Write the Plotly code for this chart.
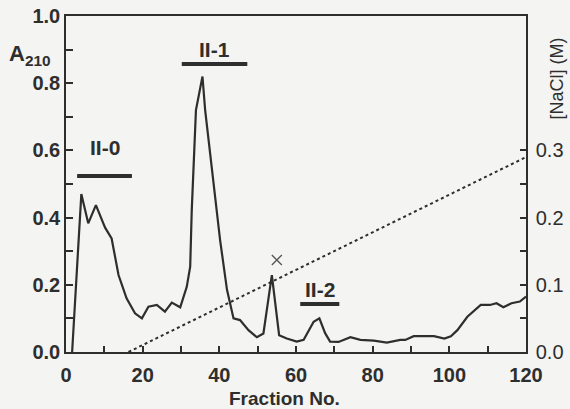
import plotly.graph_objects as go

# Absorbance profile (A210) vs fraction number
fraction = [1.6, 4.0, 5.8, 7.8, 10.2, 11.9, 13.7, 15.8, 18.0, 19.8, 21.5, 23.7, 25.8, 27.6,
            29.8, 31.5, 32.4, 32.8, 33.9, 35.6, 36.3, 38.9, 40.2, 42.0, 43.7, 45.4, 47.6,
            49.8, 51.5, 53.7, 55.6, 57.6, 60.2, 62.0, 64.6, 66.1, 67.6, 68.9, 71.1, 74.2,
            76.8, 80.3, 83.7, 87.2, 88.5, 90.7, 96.0, 98.7, 100.4, 102.1, 104.7, 108.2,
            110.6, 112.3, 114.1, 116.2, 118.4, 120.0]
a210 = [0.0, 0.47, 0.383, 0.437, 0.37, 0.338, 0.229, 0.16, 0.115, 0.10, 0.135, 0.14, 0.12,
        0.147, 0.133, 0.194, 0.254, 0.42, 0.72, 0.82, 0.72, 0.45, 0.333, 0.185, 0.10, 0.095,
        0.065, 0.044, 0.055, 0.229, 0.05, 0.04, 0.031, 0.036, 0.09, 0.10, 0.056, 0.031,
        0.03, 0.044, 0.036, 0.034, 0.028, 0.036, 0.036, 0.047, 0.047, 0.04, 0.047, 0.065,
        0.105, 0.14, 0.14, 0.145, 0.133, 0.145, 0.15, 0.165]

# NaCl gradient
nacl_fraction = [16.3, 120.0]
nacl_conc = [0.0, 0.29]

# marked fraction (x)
mark_fraction = [55.0]
mark_a210 = [0.274]

# peak pool labels
pool_labels = ["II-0", "II-1", "II-2"]
pool_start = [2.9, 30.2, 61.1]
pool_end = [17.2, 47.3, 71.3]
pool_bar_y = [0.524, 0.857, 0.143]
pool_text_y = [0.61, 0.90, 0.185]

x_ticks = [0, 20, 40, 60, 80, 100, 120]
y_ticks = [0.0, 0.2, 0.4, 0.6, 0.8, 1.0]
y2_ticks = [0.0, 0.1, 0.2, 0.3]

INK = "#2e2e2e"
BG = "#f4f4f2"
FONT = dict(family="Liberation Sans, Arial, sans-serif", size=20, color=INK, weight="bold")

fig = go.Figure()
fig.add_trace(go.Scatter(x=fraction, y=a210, mode="lines",
                         line=dict(color=INK, width=2.2), showlegend=False))
fig.add_trace(go.Scatter(x=nacl_fraction, y=nacl_conc, mode="lines", yaxis="y2",
                         line=dict(color=INK, width=2, dash="3px,3px"), showlegend=False))
fig.add_trace(go.Scatter(x=mark_fraction, y=mark_a210, mode="markers",
                         marker=dict(symbol="x-thin", size=10, line=dict(color="#555", width=1.3)),
                         showlegend=False))

for lab, x0, x1, yb, yt in zip(pool_labels, pool_start, pool_end, pool_bar_y, pool_text_y):
    fig.add_shape(type="line", x0=x0, x1=x1, y0=yb, y1=yb, xref="x", yref="y",
                  line=dict(color=INK, width=4))
    fig.add_annotation(x=(x0 + x1) / 2, y=yt, xref="x", yref="y", text=lab,
                       showarrow=False, font=dict(FONT, size=21))

fig.add_annotation(xref="paper", yref="paper", x=-0.128, y=0.885, xanchor="left",
                   yanchor="middle", text="A<sub>210</sub>", showarrow=False,
                   font=dict(FONT, size=22))
fig.add_annotation(xref="paper", yref="paper", x=1.068, y=0.815, xanchor="center",
                   yanchor="middle", text="[NaCl] (M)", textangle=-90, showarrow=False,
                   font=dict(FONT, size=18, weight="normal"))
fig.add_annotation(xref="paper", yref="paper", x=0.476, y=-0.137, xanchor="center",
                   yanchor="middle", text="Fraction No.", showarrow=False,
                   font=dict(FONT, size=19))

fig.update_layout(
    width=570, height=409,
    margin=dict(l=66, r=44, t=16, b=57, autoexpand=False),
    paper_bgcolor=BG, plot_bgcolor=BG,
    font=FONT,
    xaxis=dict(range=[0, 120], tickvals=x_ticks, ticks="inside", ticklen=6, tickwidth=1.5,
               tickcolor=INK, showline=True, linecolor=INK, linewidth=1.5, mirror=True,
               showgrid=False, zeroline=False, ticklabelstandoff=4, automargin=False,
               minor=dict(tickvals=[10, 30, 50, 70, 90, 110], ticks="inside", ticklen=6,
                          tickwidth=1.5, tickcolor=INK)),
    yaxis=dict(range=[0, 1.0], tickvals=y_ticks, tickformat=".1f", ticks="inside", ticklen=7,
               tickwidth=1.5, tickcolor=INK, showline=True, linecolor=INK, linewidth=1.5,
               showgrid=False, zeroline=False, automargin=False,
               minor=dict(tickvals=[0.1, 0.3, 0.5, 0.7, 0.9], ticks="inside", ticklen=7,
                          tickwidth=1.5, tickcolor=INK)),
    yaxis2=dict(range=[0, 0.5], overlaying="y", side="right", tickvals=y2_ticks,
                tickformat=".1f", ticks="inside", ticklen=6, tickwidth=1.5, tickcolor=INK,
                showline=True, linecolor=INK, linewidth=1.5, showgrid=False, zeroline=False,
                ticklabelstandoff=4, tickfont=dict(FONT, weight="normal"), automargin=False,
                minor=dict(tickvals=[0.05, 0.15, 0.25], ticks="inside", ticklen=6,
                           tickwidth=1.5, tickcolor=INK)),
)

fig.write_html("out.html")
